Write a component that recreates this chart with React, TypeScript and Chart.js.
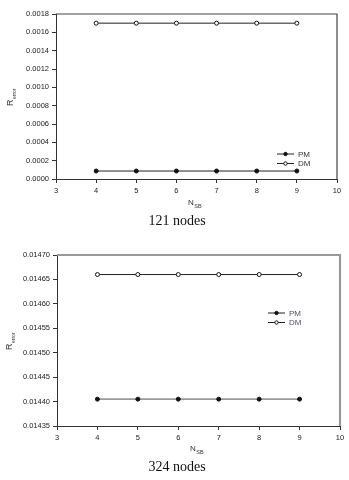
import React, { useEffect, useRef } from "react";
import { Chart, registerables } from "chart.js";

Chart.register(...registerables);

const xValues = [4, 5, 6, 7, 8, 9];
const pm121 = [0.000087, 0.000087, 0.000087, 0.000087, 0.000087, 0.000087];
const dm121 = [0.0017, 0.0017, 0.0017, 0.0017, 0.0017, 0.0017];
const pm324 = [0.014405, 0.014405, 0.014405, 0.014405, 0.014405, 0.014405];
const dm324 = [0.01466, 0.01466, 0.01466, 0.01466, 0.01466, 0.01466];
const seriesNames = ["PM", "DM"];
const captions = ["121 nodes", "324 nodes"];

type PanelOpts = {
  pm: number[];
  dm: number[];
  yMin: number;
  yMax: number;
  yStep: number;
  yDigits: number;
  area: { left: number; right: number; top: number; bottom: number };
  borderColor: string;
  borderWidth: number;
  pmLineColor: string;
  pmLineWidth: number;
  legendPos: { x: number; y: number };
  legendTextColor: string;
  xLabelPos: { x: number; y: number };
  yLabelPos: { x: number; y: number };
  captionY: number;
  caption: string;
};

const W = 349;
const H = 240;
const SANS = "'Liberation Sans', Arial, sans-serif";

function makeChart(canvas: HTMLCanvasElement, o: PanelOpts) {
  const decor = {
    id: "decor",
    afterDraw(chart: any) {
      const ctx = chart.ctx as CanvasRenderingContext2D;
      const a = chart.chartArea;
      ctx.save();
      // top & right frame
      ctx.strokeStyle = o.borderColor;
      ctx.lineWidth = o.borderWidth;
      ctx.beginPath();
      ctx.moveTo(a.left, a.top);
      ctx.lineTo(a.right, a.top);
      ctx.lineTo(a.right, a.bottom);
      ctx.stroke();

      // legend
      const lx = o.legendPos.x;
      const ly = o.legendPos.y;
      for (let i = 0; i < 2; i++) {
        const y = ly + i * 9.5;
        ctx.strokeStyle = "#222";
        ctx.lineWidth = 1;
        ctx.beginPath();
        ctx.moveTo(lx, y);
        ctx.lineTo(lx + 17, y);
        ctx.stroke();
        ctx.beginPath();
        ctx.arc(lx + 8.5, y, 1.7, 0, Math.PI * 2);
        ctx.fillStyle = i === 0 ? "#111" : "#fff";
        ctx.fill();
        ctx.strokeStyle = "#111";
        ctx.stroke();
        ctx.fillStyle = o.legendTextColor;
        ctx.font = `8px ${SANS}`;
        ctx.textBaseline = "middle";
        ctx.textAlign = "left";
        ctx.fillText(seriesNames[i], lx + 21, y + 0.5);
      }

      // x axis title N_SB
      ctx.fillStyle = "#333";
      ctx.textBaseline = "alphabetic";
      ctx.textAlign = "left";
      ctx.font = `8px ${SANS}`;
      ctx.fillText("N", o.xLabelPos.x, o.xLabelPos.y);
      const nw = ctx.measureText("N").width;
      ctx.font = `5.5px ${SANS}`;
      ctx.fillText("SB", o.xLabelPos.x + nw + 0.5, o.xLabelPos.y + 2.5);

      // y axis title R_error
      ctx.save();
      ctx.translate(o.yLabelPos.x, o.yLabelPos.y);
      ctx.rotate(-Math.PI / 2);
      ctx.font = `9px ${SANS}`;
      ctx.fillText("R", 0, 0);
      const rw = ctx.measureText("R").width;
      ctx.font = `5px ${SANS}`;
      ctx.fillText("error", rw + 0.5, 2.5);
      ctx.restore();

      // caption
      ctx.fillStyle = "#111";
      ctx.font = `14px 'Liberation Serif', 'Times New Roman', serif`;
      ctx.textAlign = "center";
      ctx.textBaseline = "middle";
      ctx.fillText(o.caption, 177, o.captionY);
      ctx.restore();
    },
  };

  const axisCommon = {
    grid: {
      display: true,
      drawOnChartArea: false,
      drawTicks: true,
      tickLength: 4,
      color: "#333",
      lineWidth: 1,
    },
    border: { display: true, color: "#333", width: 1 },
  };

  return new Chart(canvas, {
    type: "line",
    data: {
      datasets: [
        {
          label: seriesNames[0],
          data: xValues.map((x, i) => ({ x, y: o.pm[i] })),
          borderColor: o.pmLineColor,
          borderWidth: o.pmLineWidth,
          pointRadius: 2,
          pointBackgroundColor: "#111",
          pointBorderColor: "#111",
          pointBorderWidth: 1,
          fill: false,
          tension: 0,
        },
        {
          label: seriesNames[1],
          data: xValues.map((x, i) => ({ x, y: o.dm[i] })),
          borderColor: "#222",
          borderWidth: 1,
          pointRadius: 2,
          pointBackgroundColor: "#fff",
          pointBorderColor: "#111",
          pointBorderWidth: 1,
          fill: false,
          tension: 0,
        },
      ],
    },
    options: {
      animation: false,
      responsive: false,
      maintainAspectRatio: false,
      devicePixelRatio: 1,
      layout: {
        padding: {
          left: 0,
          top: o.area.top,
          right: W - o.area.right,
          bottom: 0,
        },
      },
      plugins: {
        legend: { display: false },
        tooltip: { enabled: false },
        title: { display: false },
      },
      scales: {
        x: {
          type: "linear",
          min: 3,
          max: 10,
          ...axisCommon,
          ticks: {
            stepSize: 1,
            color: "#222",
            font: { size: 7.5, family: SANS },
            padding: 3,
            maxRotation: 0,
            autoSkip: false,
          },
          afterFit(scale: any) {
            scale.height = H - o.area.bottom;
          },
        },
        y: {
          type: "linear",
          min: o.yMin,
          max: o.yMax,
          ...axisCommon,
          ticks: {
            stepSize: o.yStep,
            color: "#222",
            font: { size: 7.5, family: SANS },
            padding: 3,
            autoSkip: false,
            callback: (v: any) => Number(v).toFixed(o.yDigits),
          },
          afterFit(scale: any) {
            scale.width = o.area.left;
          },
        },
      },
    } as any,
    plugins: [decor],
  });
}

export default function App() {
  const ref1 = useRef<HTMLCanvasElement>(null);
  const ref2 = useRef<HTMLCanvasElement>(null);

  useEffect(() => {
    const c1 = makeChart(ref1.current!, {
      pm: pm121,
      dm: dm121,
      yMin: 0,
      yMax: 0.0018,
      yStep: 0.0002,
      yDigits: 4,
      area: { left: 56, right: 337, top: 14, bottom: 179 },
      borderColor: "#444",
      borderWidth: 1.2,
      pmLineColor: "#222",
      pmLineWidth: 1,
      legendPos: { x: 277, y: 154 },
      legendTextColor: "#333",
      xLabelPos: { x: 188, y: 205 },
      yLabelPos: { x: 13, y: 106 },
      captionY: 221,
      caption: captions[0],
    });
    const c2 = makeChart(ref2.current!, {
      pm: pm324,
      dm: dm324,
      yMin: 0.01435,
      yMax: 0.0147,
      yStep: 0.00005,
      yDigits: 5,
      area: { left: 57, right: 340, top: 15, bottom: 186 },
      borderColor: "#999",
      borderWidth: 2.2,
      pmLineColor: "#9a9a9a",
      pmLineWidth: 1.8,
      legendPos: { x: 268, y: 73 },
      legendTextColor: "#5a4a6a",
      xLabelPos: { x: 190, y: 211 },
      yLabelPos: { x: 12, y: 110 },
      captionY: 227,
      caption: captions[1],
    });
    return () => {
      c1.destroy();
      c2.destroy();
    };
  }, []);

  return (
    <div style={{ position: "absolute", left: 0, top: 0, width: W, height: 480, background: "#fff" }}>
      <canvas ref={ref1} width={W} height={H} style={{ position: "absolute", left: 0, top: 0, width: W, height: H }} />
      <canvas ref={ref2} width={W} height={H} style={{ position: "absolute", left: 0, top: H, width: W, height: H }} />
    </div>
  );
}
